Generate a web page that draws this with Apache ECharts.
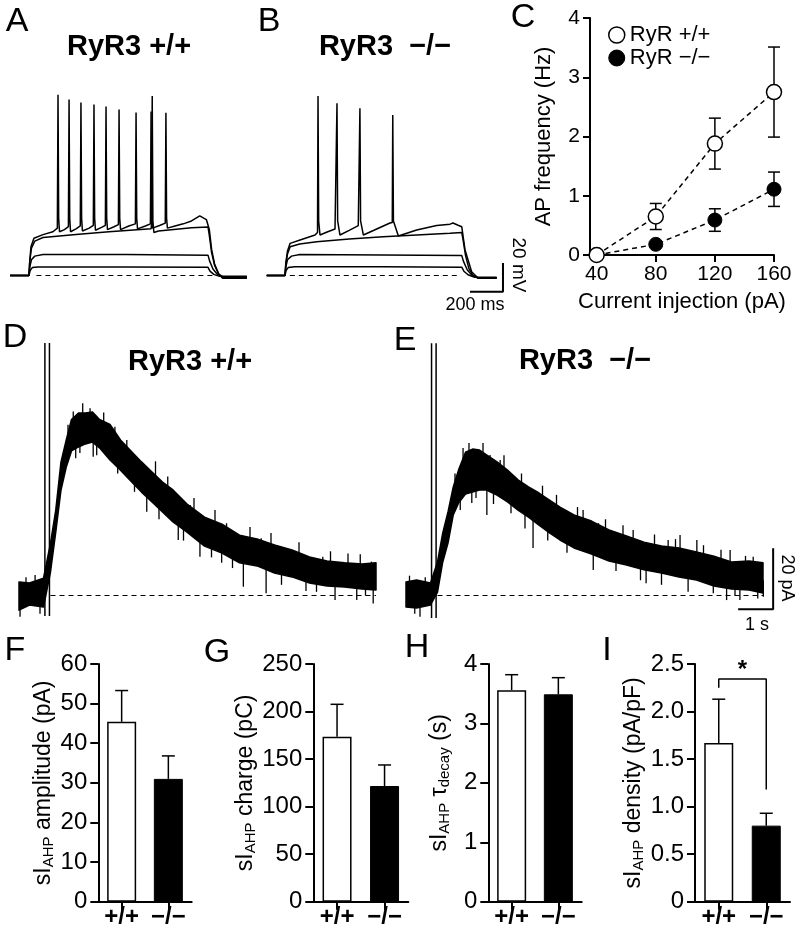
<!DOCTYPE html>
<html><head><meta charset="utf-8">
<script src="https://cdn.jsdelivr.net/npm/echarts@6/dist/echarts.min.js"></script>
<style>html,body{margin:0;padding:0;background:#fff}#c{width:800px;height:938px}</style>
</head><body><div id="c"></div><script>
// ---------- DATA ----------
// Panels A/B: membrane potential traces, [time ms, mV relative to rest]
const traceA1 = [[0,0],[115,0],[122,3.5],[135,5.5],[170,6],[700,6],[1200,5.7],[1212,3],[1235,0.8],[1270,-0.6],[1436,-0.6]];
const traceA2 = [[0,0],[115,0],[120,6],[130,11],[150,13.5],[200,14.6],[700,14.6],[1200,14.2],[1210,10],[1230,4.5],[1255,1],[1290,-1.2],[1436,-1.2]];
const traceA3 = [[0,0],[115,0],[120,10],[130,19],[150,24],[200,26.5],[400,28.5],[600,30.5],[855,32.5],[858,36],[862,125],[866,38],[872,30],[900,31],[1100,33.2],[1200,33.8],[1208,28],[1222,16],[1240,7],[1265,1],[1300,-1.6],[1436,-1.6]];
const traceA4 = [[0,0],[115,0],[119,9],[127,20],[145,26],[200,28.5],[260,30.5],[287,33],
  [291,126],[295,40],[300,30.5],[330,32],[354,34],
  [358,122.6],[362,40],[367,30.5],[400,32.5],[426,34.5],
  [430,120.6],[434,40],[439,31],[480,33],[505,35],
  [509,119.2],[513,40],[518,31.5],[555,33.5],[578,35],
  [582,117.8],[586,40],[591,32],[630,34],[657,35.5],
  [661,115.7],[665,40],[670,32],[720,34.5],[760,36],
  [764,113.6],[768,40],[773,32.5],[820,34.5],[851,36],
  [855,114.3],[859,40],[864,33],[910,35],[941,36.5],
  [945,113.4],[949,40],[954,33],[1000,34.5],[1050,36],[1100,38],[1150,41.5],[1190,39],[1200,38.5],
  [1208,32],[1222,18],[1240,8],[1265,1],[1290,-2],[1436,-2]];
const traceB1 = [[0,0],[111,0],[117,3.5],[130,5.5],[170,6.1],[700,6.1],[1182,5.8],[1195,3],[1220,0.5],[1260,-1.2],[1394,-1.2]];
const traceB2 = [[0,0],[111,0],[116,6],[126,11],[150,13.5],[200,14.6],[700,14.3],[1182,14],[1192,10],[1215,4],[1245,0],[1280,-1.5],[1394,-1.5]];
const traceB3 = [[0,0],[111,0],[116,8],[126,15],[142,20],[200,22],[303,23.5],[500,25.5],[706,27],[1111,29.4],[1182,30],[1190,25],[1205,14],[1225,5],[1250,0],[1280,-1.8],[1394,-1.8]];
const traceB4 = [[0,0],[111,0],[116,9],[126,17],[142,22.4],[202,24.7],[293,28.2],[308,30],[311,125.1],[315,38],[323,28.2],
  [370,30.5],[414,32.4],[423,33],[426,120],[430,38],[444,28.2],[500,31.5],[555,34.8],[562,35],[565,116.5],[569,38],[586,28.2],
  [650,31.5],[747,36.6],[761,37],[764,111.8],[768,38],[798,27.5],[909,31.7],[1030,34.8],[1111,35.8],[1129,36.6],[1160,35],[1182,34],
  [1202,17.8],[1242,2.6],[1282,-2],[1394,-2]];
const restLineA = [[160,0],[1230,0]];
const restLineB = [[140,0],[1175,0]];
const scaleBarAB = [[1232,-11.3],[1432,-11.3],[1432,8.7]]; // 200 ms, 20 mV

// Panel C: AP frequency vs current injection
const currentInj = [40, 80, 120, 160];
const freqWT = [0, 0.65, 1.88, 2.75];
const semWT  = [0, 0.22, 0.43, 0.76];
const freqKO = [0, 0.18, 0.59, 1.11];
const semKO  = [0, 0.04, 0.19, 0.29];
const xTicksC = [40, 80, 120, 160];

// Panels D/E: sIAHP current traces (time s, pA), noisy band envelope
const timeDE = [-0.8,-0.5,-0.1,0.1,0.25,0.4,0.55,0.7,0.9,1.1,1.3,1.5,1.8,2.1,2.4,2.7,3.0,3.3,3.6,4.0,4.5,5.0,5.5,6.0,6.5,7.0,7.5,8.0,8.5,9.0,9.4];
const upperD = [4.4,4.1,5.7,17.2,28.0,43.8,51.0,57.7,59.8,59.8,60.2,57.7,56.1,51.0,47.4,43.8,40.5,37.2,34.6,30.0,25.7,23.4,19.8,18.5,16.6,14.9,12.6,11.3,10.7,10.3,10.7];
const lowerD = [-4.8,-3.1,-3.8,7.7,20.8,34.6,42.1,47.4,48.7,49.7,50.3,48.4,44.4,41.1,37.5,33.9,30.7,27.4,24.1,20.8,16.2,13.9,10.7,9.7,7.4,6.1,4.1,3.1,2.8,2.1,1.8];
const upperE = [4.4,5.1,4.1,11.0,20.5,27.4,35.6,41.1,47.0,48.0,47.7,46.1,43.8,41.1,37.9,35.6,33.6,31.3,29.0,26.4,24.4,21.5,19.5,17.5,16.2,15.6,14.3,12.9,11.0,11.3,10.7];
const lowerE = [-3.8,-4.1,-3.1,1.1,11.0,17.2,26.4,30.3,33.3,33.9,34.6,34.6,32.9,30.7,28.0,25.7,23.1,20.5,18.2,15.6,13.6,11.3,10.0,8.4,7.4,6.1,5.1,3.1,2.1,1.8,0.8];
// noise spikes [time s, from pA, to pA]
const spikesD = [[-0.77,0,-7],[-0.6,0,6],[-0.34,0,6.7],[-0.2,0,-6],[0.6,48,56],[0.75,53,60.3],[0.82,53,45],[0.94,54,46.7],[1.02,55,63],
  [1.23,55,61.4],[1.32,55,45.5],[1.42,54,46],[1.62,52,60],[1.94,48,55.3],[2.02,47,40],[2.28,44,51],[2.5,41,34],[2.75,38,43.3],
  [2.85,37,27.5],[3.1,35,44],[3.2,33,25],[3.45,31,39],[3.75,27,18.2],[3.9,26,18],[4.09,26,29.7],[4.2,24,32],[4.37,22,12.7],
  [4.7,20,12.5],[4.8,20,28],[4.99,18.5,10.7],[5.13,18,23.7],[5.3,17,9],[5.61,15,2.9],[5.8,14.5,22.5],[6.12,13,18.8],[6.26,13,0.7],
  [6.4,12.5,20.5],[6.7,11.5,3.5],[6.94,10.5,6.2],[7.2,9.5,17.5],[7.4,8.8,1.5],[7.7,7.8,1.2],[7.88,8,12.7],[8.1,7,14.5],[8.23,7,-1.5],
  [8.6,6.6,13.8],[8.85,6.5,-1.5],[8.95,6.2,13.5],[9.1,6,0],[9.27,6,11.1],[9.32,6,-2.6]];
const spikesE = [[-0.7,0,6.5],[-0.55,0,-6],[-0.4,0,-7],[-0.25,0,6],[0.6,33,40],[0.75,37,28],[0.83,40,48.4],[1.0,40,50],[1.08,40,30.3],
  [1.2,41,32],[1.4,41,50],[1.51,40,26.4],[1.6,40,46.1],[1.7,39,30],[1.89,38,44.4],[2.0,37,46],[2.2,35,27],[2.5,32,40],[2.6,31,22],
  [2.83,30,15.6],[3.1,27.5,36],[3.25,26,18],[3.5,24.5,33],[3.8,22,14],[4.1,20.5,29],[4.26,20,28.0],[4.55,18,8.4],[4.70,18,23.7],
  [4.9,17,25],[5.2,16,8],[5.4,15,23],[5.69,14,21.5],[5.9,13.5,5],[6.06,13,4.0],[6.3,12.3,20],[6.5,11.8,3.5],[6.69,12,18.2],
  [6.9,11,18.5],[7.03,11,19.8],[7.26,10,1.2],[7.51,10,18.2],[7.7,9,16.5],[7.98,8,0.7],[8.2,7.5,15],[8.36,7,-1.5],[8.46,7,14.9],
  [8.6,6.6,0],[8.74,6.5,-1.5],[8.9,6.6,13],[9.12,6,12.7],[9.25,6,-1],[9.41,5,-0.4]];
const stimD = [[-0.06,-6.7,82.8],[0.07,-6.7,82.8]];
const stimE = [[-0.07,-7.4,82.7],[0.06,-7.4,82.7]];
const restLineDE = [[0.1,0],[9.4,0]];
const scaleBarE = [[8.69,-4.5],[9.69,-4.5],[9.69,15.5]]; // 1 s, 20 pA

// Panels F-I: bar summaries
const groups = ['+/+', '\u2212/\u2212'];
const ampMean = [45.4, 31.0],  ampSem = [7.9, 5.8];
const chgMean = [173.5, 121.7], chgSem = [34.1, 22.1];
const tauMean = [3.56, 3.49],  tauSem = [0.26, 0.28];
const denMean = [1.67, 0.80],  denSem = [0.46, 0.13];
const sigBracket = [[0, 2.25], [0, 2.342], [1, 2.342], [1, 1.18]];
const sigStar = [[0, 1, 2.47]];

// ---------- CHART ----------
const FF = '"Liberation Sans", Arial, Helvetica, sans-serif';
const chart = echarts.init(document.getElementById('c'), null, {renderer: 'canvas'});

const grids = [
  {left:10, top:88.95, width:239.25, height:208.08},
  {left:266.7, top:88.95, width:239.25, height:208.08},
  {left:590, top:18, width:184, height:237},
  {left:12, top:336.25, width:385, height:289.75},
  {left:399, top:336.25, width:385, height:289.75},
  {left:98.3, top:664, width:93.4, height:237.7},
  {left:313.3, top:664, width:95, height:237.7},
  {left:488.3, top:664, width:93.4, height:237.7},
  {left:695, top:664, width:95, height:237.7}
].map(g => Object.assign({containLabel:false, outerBoundsMode:'none'}, g));

const hx = (gi, min, max) => ({type:'value', gridIndex:gi, min, max, show:false});
const axLine = {show:true, onZero:false, lineStyle:{color:'#000', width:2}};
const axTick = {show:true, length:8, lineStyle:{color:'#000', width:2}};

const xAxes = [
  hx(0, 0, 1450), hx(1, 0, 1450),
  {type:'value', gridIndex:2, min:35.5, max:160, axisLine:axLine,
   axisTick:{show:true, length:7, lineStyle:{color:'#000', width:2}, customValues:xTicksC},
   axisLabel:{customValues:xTicksC, fontSize:21, fontFamily:FF, color:'#000', margin:9},
   splitLine:{show:false}, name:'Current injection (pA)', nameLocation:'middle', nameGap:36,
   nameTextStyle:{fontSize:22, fontFamily:FF, color:'#000'}},
  hx(3, -1, 10), hx(4, -1, 10)
];
const yAxes = [
  hx(0, -15, 130), hx(1, -15, 130),
  {type:'value', gridIndex:2, min:0, max:4, interval:1, axisLine:axLine,
   axisTick:{show:true, length:7, lineStyle:{color:'#000', width:2}},
   axisLabel:{fontSize:21, fontFamily:FF, color:'#000', margin:10},
   splitLine:{show:false}, name:'AP frequency (Hz)', nameLocation:'middle', nameGap:35,
   nameTextStyle:{fontSize:22, fontFamily:FF, color:'#000'}},
  hx(3, -10, 85), hx(4, -10, 85)
];

const rich = {
  m: {fontSize:23, fontFamily:FF, color:'#000'},
  s: {fontSize:15, fontFamily:FF, color:'#000', padding:[11,0,0,0]}
};
const barPanels = [
  {gi:5, max:60, interval:10, mean:ampMean, sem:ampSem, name:'{m|sI}{s|AHP}{m| amplitude (pA)}'},
  {gi:6, max:250, interval:50, mean:chgMean, sem:chgSem, name:'{m|sI}{s|AHP}{m| charge (pC)}'},
  {gi:7, max:4, interval:1, mean:tauMean, sem:tauSem, name:'{m|sI}{s|AHP}{m| \u03c4}{s|decay}{m| (s)}'},
  {gi:8, max:2.5, interval:0.5, mean:denMean, sem:denSem, name:'{m|sI}{s|AHP}{m| density (pA/pF)}', dec:true}
];
barPanels.forEach(p => {
  xAxes.push({type:'category', gridIndex:p.gi, data:groups, axisLine:axLine,
    axisTick:{show:true, alignWithLabel:true, length:8, lineStyle:{color:'#000', width:2}},
    axisLabel:{fontSize:24, fontWeight:'bold', fontFamily:FF, color:'#000', margin:4}});
  yAxes.push({type:'value', gridIndex:p.gi, min:0, max:p.max, interval:p.interval, axisLine:axLine, axisTick:axTick,
    splitLine:{show:false},
    axisLabel:{fontSize:24, fontFamily:FF, color:'#000', margin:11,
      formatter: p.dec ? (v => v === 0 ? '0' : v.toFixed(1)) : null},
    name:p.name, nameLocation:'middle', nameGap:36, nameTextStyle:{rich}});
});

const series = [];
const line = (gi, data, extra) => Object.assign({type:'line', xAxisIndex:gi, yAxisIndex:gi, data, symbol:'none',
  silent:true, lineStyle:{color:'#000', width:1.5}, z:3}, extra || {});
const dashed = {lineStyle:{color:'#000', width:1.2, type:[5,4]}, z:2};

// A & B traces
[traceA1, traceA2, traceA3, traceA4].forEach(t => series.push(line(0, t)));
series.push(line(0, restLineA, dashed));
[traceB1, traceB2, traceB3, traceB4].forEach(t => series.push(line(1, t)));
series.push(line(1, restLineB, dashed));
series.push(line(1, scaleBarAB, {lineStyle:{color:'#000', width:2}, clip:false}));

// vertical segment renderer (error bars, spikes, artifacts)
function vseg(width, capTop, capBottom, color) {
  return function (params, api) {
    const x = api.value(0);
    const p1 = api.coord([x, api.value(1)]);
    const p2 = api.coord([x, api.value(2)]);
    const st = {stroke: color || '#000', lineWidth: width};
    const ch = [{type:'line', shape:{x1:p1[0], y1:p1[1], x2:p2[0], y2:p2[1]}, style:st}];
    if (capTop) ch.push({type:'line', shape:{x1:p2[0]-capTop/2, y1:p2[1], x2:p2[0]+capTop/2, y2:p2[1]}, style:st});
    if (capBottom) ch.push({type:'line', shape:{x1:p1[0]-capBottom/2, y1:p1[1], x2:p1[0]+capBottom/2, y2:p1[1]}, style:st});
    return {type:'group', children:ch};
  };
}
const vsegSeries = (gi, data, render, z) => ({type:'custom', xAxisIndex:gi, yAxisIndex:gi, data, renderItem:render,
  encode:{x:0, y:[1,2]}, silent:true, clip:false, z: z || 2});

// C: error bars then lines with markers
series.push(vsegSeries(2, currentInj.map((c,i) => [c, freqWT[i]-semWT[i], freqWT[i]+semWT[i]]), vseg(1.5, 12, 12), 2));
series.push(vsegSeries(2, currentInj.map((c,i) => [c, freqKO[i]-semKO[i], freqKO[i]+semKO[i]]), vseg(1.5, 12, 12), 2));
series.push({type:'line', name:'RyR +/+', xAxisIndex:2, yAxisIndex:2, data:currentInj.map((c,i)=>[c,freqWT[i]]),
  symbol:'circle', symbolSize:15, showAllSymbol:true, clip:false, z:4,
  lineStyle:{color:'#000', width:1.5, type:[5,4]}, itemStyle:{color:'#fff', borderColor:'#000', borderWidth:1.5}});
series.push({type:'line', name:'RyR \u2212/\u2212', xAxisIndex:2, yAxisIndex:2, data:currentInj.map((c,i)=>[c,freqKO[i]]),
  symbol:'circle', symbolSize:14, showAllSymbol:true, clip:false, z:3,
  lineStyle:{color:'#000', width:1.5, type:[5,4]}, itemStyle:{color:'#000', borderColor:'#000', borderWidth:1}});

// D & E bands
function band(T, U, L) {
  return function (params, api) {
    const pts = [];
    for (let i = 0; i < T.length; i++) pts.push(api.coord([T[i], U[i]]));
    for (let i = T.length - 1; i >= 0; i--) pts.push(api.coord([T[i], L[i]]));
    return {type:'polygon', shape:{points:pts}, style:{fill:'#000', stroke:'#000', lineWidth:1.5, lineJoin:'round'}};
  };
}
[[3, upperD, lowerD, spikesD, stimD], [4, upperE, lowerE, spikesE, stimE]].forEach(([gi, U, L, S, ST]) => {
  series.push(line(gi, restLineDE, dashed));
  series.push({type:'custom', xAxisIndex:gi, yAxisIndex:gi, data:[[timeDE[0], U[0]]], renderItem:band(timeDE, U, L),
    silent:true, clip:false, z:3});
  series.push(vsegSeries(gi, S, vseg(1.3), 3));
  series.push(vsegSeries(gi, ST, vseg(1.5), 4));
});
series.push(line(4, scaleBarE, {lineStyle:{color:'#000', width:2}, clip:false}));

// F-I bars + error bars
barPanels.forEach(p => {
  series.push({type:'bar', xAxisIndex:p.gi, yAxisIndex:p.gi, barWidth:29, silent:true, z:2,
    data:[{value:p.mean[0], itemStyle:{color:'#fff', borderColor:'#000', borderWidth:1.5}},
          {value:p.mean[1], itemStyle:{color:'#000', borderColor:'#000', borderWidth:1}}]});
  series.push(vsegSeries(p.gi, p.mean.map((m,i) => [i, m, m + p.sem[i]]), vseg(1.5, 13, 0), 3));
});
series.push(line(8, sigBracket, {clip:false}));
series.push({type:'custom', xAxisIndex:8, yAxisIndex:8, data:sigStar, encode:{x:0, y:2}, silent:true, clip:false,
  renderItem: (params, api) => {
    const a = api.coord([api.value(0), api.value(2)]);
    const b = api.coord([api.value(1), api.value(2)]);
    return {type:'text', x:(a[0]+b[0])/2, y:a[1]+4, style:{text:'*', fontSize:24, fontWeight:'bold', fontFamily:FF,
      fill:'#000', align:'center', verticalAlign:'middle'}};
  }});

const T = (text, x, y, size, weight, rot) => ({type:'text', x, y, rotation: rot || 0, silent:true,
  style:{text, fontSize:size, fontWeight:weight || 'normal', fontFamily:FF, fill:'#000',
    align:'center', verticalAlign:'middle'}});
const graphic = [
  T('A', 17, 22, 34), T('B', 269, 22, 34), T('C', 523, 18, 34),
  T('D', 15, 338, 34), T('E', 405, 341, 34),
  T('F', 15, 651, 34), T('G', 217, 653, 34), T('H', 417, 648, 34), T('I', 607, 651, 34),
  T('RyR3 +/+', 129, 47, 29, 'bold'), T('RyR3  \u2212/\u2212', 385, 47, 29, 'bold'),
  T('RyR3 +/+', 190, 362, 29, 'bold'), T('RyR3  \u2212/\u2212', 585, 361, 29, 'bold'),
  T('20 mV', 518, 265, 19, 'normal', -Math.PI/2), T('200 ms', 475, 305, 18),
  T('20 pA', 787, 578, 18, 'normal', -Math.PI/2), T('1 s', 757, 625, 18)
];

chart.setOption({
  animation:false,
  textStyle:{fontFamily:FF},
  grid:grids, xAxis:xAxes, yAxis:yAxes, series, graphic,
  legend:{left:603, top:19, orient:'vertical', itemWidth:16, itemHeight:16, itemGap:1, icon:'circle', selectedMode:false,
    textStyle:{fontSize:22, fontFamily:FF, color:'#000'},
    data:[{name:'RyR +/+', itemStyle:{color:'#fff', borderColor:'#000', borderWidth:1.5}},
          {name:'RyR \u2212/\u2212', itemStyle:{color:'#000', borderColor:'#000', borderWidth:1}}]}
});
</script></body></html>
